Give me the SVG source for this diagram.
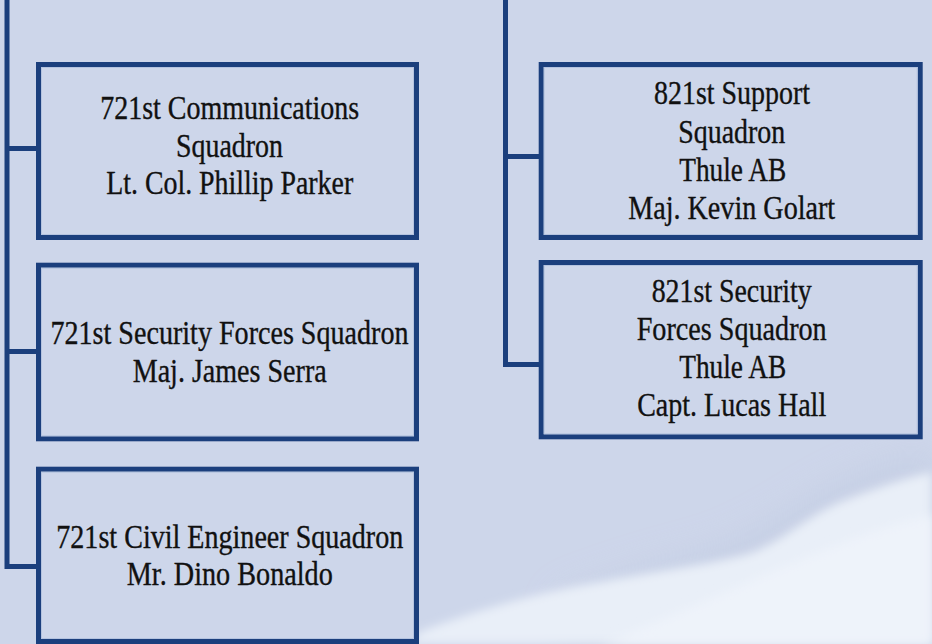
<svg xmlns="http://www.w3.org/2000/svg" width="932" height="644" viewBox="0 0 932 644">
<defs>
<style>
.box{fill:#cdd6ea;stroke:#1b3f7d;stroke-width:5}
.inner{fill:none;stroke:#b4c3df;stroke-width:1}
.conn{fill:none;stroke:#1b3f7d;stroke-width:5;stroke-linejoin:miter}
.t{font-family:"Liberation Serif","Times New Roman",serif;font-size:33px;fill:#111;stroke:#111;stroke-width:0.35;text-anchor:middle}
</style>
<filter id="blur" x="-30%" y="-30%" width="160%" height="160%"><feGaussianBlur stdDeviation="5"/></filter>
<filter id="blur2" x="-30%" y="-30%" width="160%" height="160%"><feGaussianBlur stdDeviation="18"/></filter>
</defs>
<rect width="932" height="644" fill="#cdd6ea"/>
<g id="clouds">
<path d="M560,600 C610,580 660,565 700,555 C740,545 780,520 820,495 C860,472 900,460 932,452 L932,644 L560,644 Z" fill="#c4cde3" filter="url(#blur2)" opacity="0.8"/>
<path d="M420,632 C470,612 540,592 600,582 C650,572 700,566 740,556 C780,545 800,520 840,502 C875,488 905,478 932,472 L932,644 L410,644 Z" fill="#e9eff8" filter="url(#blur)"/>
<path d="M600,644 C680,615 760,575 830,548 C880,528 910,520 932,515 L932,644 Z" fill="#eef3fa" filter="url(#blur)"/>
</g>
<g id="connectors">
<path class="conn" d="M7,0 V566.5 H38"/>
<path class="conn" d="M7,148.5 H38"/>
<path class="conn" d="M7,351.5 H38"/>
<path class="conn" d="M505.5,0 V364.5 H541"/>
<path class="conn" d="M505.5,156.5 H541"/>
</g>
<g id="n721cs">
<rect class="box" x="38.5" y="64.5" width="378" height="173"/>
<rect class="inner" x="41.5" y="67.5" width="372" height="167"/>
<text class="t" x="229.7" y="118.7" textLength="259" lengthAdjust="spacingAndGlyphs">721st Communications</text>
<text class="t" x="229.5" y="156.7" textLength="107" lengthAdjust="spacingAndGlyphs">Squadron</text>
<text class="t" x="229.7" y="194" textLength="247" lengthAdjust="spacingAndGlyphs">Lt. Col. Phillip Parker</text>
</g>
<g id="n721sfs">
<rect class="box" x="38.5" y="265.2" width="378" height="173.6"/>
<rect class="inner" x="41.5" y="268.2" width="372" height="167.6"/>
<text class="t" x="229.5" y="344" textLength="358" lengthAdjust="spacingAndGlyphs">721st Security Forces Squadron</text>
<text class="t" x="229.7" y="381.7" textLength="194" lengthAdjust="spacingAndGlyphs">Maj. James Serra</text>
</g>
<g id="n721ces">
<rect class="box" x="38.5" y="469.2" width="378" height="172.3"/>
<rect class="inner" x="41.5" y="472.2" width="372" height="166.3"/>
<text class="t" x="229.8" y="547.7" textLength="347" lengthAdjust="spacingAndGlyphs">721st Civil Engineer Squadron</text>
<text class="t" x="229.8" y="585" textLength="206" lengthAdjust="spacingAndGlyphs">Mr. Dino Bonaldo</text>
</g>
<g id="n821sus">
<rect class="box" x="541.2" y="64.5" width="379" height="173"/>
<rect class="inner" x="544.2" y="67.5" width="373" height="167"/>
<text class="t" x="732" y="104" textLength="156" lengthAdjust="spacingAndGlyphs">821st Support</text>
<text class="t" x="731.7" y="142.7" textLength="107" lengthAdjust="spacingAndGlyphs">Squadron</text>
<text class="t" x="732.7" y="181" textLength="107" lengthAdjust="spacingAndGlyphs">Thule AB</text>
<text class="t" x="731.7" y="219" textLength="207" lengthAdjust="spacingAndGlyphs">Maj. Kevin Golart</text>
</g>
<g id="n821sfs">
<rect class="box" x="541.2" y="262.5" width="379" height="174.3"/>
<rect class="inner" x="544.2" y="265.5" width="373" height="168.3"/>
<text class="t" x="731.7" y="301.7" textLength="160" lengthAdjust="spacingAndGlyphs">821st Security</text>
<text class="t" x="731.7" y="340" textLength="190" lengthAdjust="spacingAndGlyphs">Forces Squadron</text>
<text class="t" x="732.7" y="378.3" textLength="107" lengthAdjust="spacingAndGlyphs">Thule AB</text>
<text class="t" x="731.7" y="415.7" textLength="189" lengthAdjust="spacingAndGlyphs">Capt. Lucas Hall</text>
</g>
</svg>
